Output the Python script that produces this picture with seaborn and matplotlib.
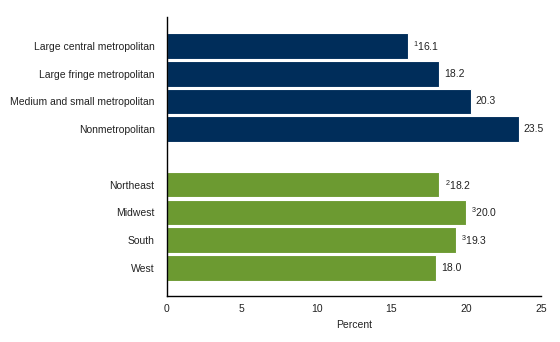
import matplotlib
matplotlib.use("Agg")
import matplotlib.pyplot as plt
import seaborn as sns
import pandas as pd
import numpy as np

categories = ["Large central metropolitan", "Large fringe metropolitan",
              "Medium and small metropolitan", "Nonmetropolitan",
              "Northeast", "Midwest", "South", "West"]
values = [16.1, 18.2, 20.3, 23.5, 18.2, 20.0, 19.3, 18.0]
groups = ["urban"] * 4 + ["region"] * 4
footnotes = ["1", "", "", "", "2", "3", "3", ""]
xticks = [0, 5, 10, 15, 20, 25]

sns.set_theme(style="white")
plt.rcParams["font.family"] = ["Liberation Sans", "DejaVu Sans"]
plt.rcParams["mathtext.fontset"] = "custom"
plt.rcParams["mathtext.rm"] = "Liberation Sans"
plt.rcParams["mathtext.it"] = "Liberation Sans"

FS = 7.5
blank = " "
order = categories[:4] + [blank] + categories[4:]
df = pd.DataFrame({"label": categories, "value": values, "group": groups})

fig = plt.figure(figsize=(5.6, 3.42), dpi=100)
ax = fig.add_axes([167/560, 46/342, (541-167)/560, (296-17)/342])

palette = {"urban": "#002D5A", "region": "#6C9A31"}
sns.barplot(data=df, y="label", x="value", hue="group", order=order,
            palette=palette, dodge=False, legend=False, width=0.92,
            edgecolor="white", linewidth=0.8, saturation=1, ax=ax)

pos = {c: i for i, c in enumerate(order)}
for c, v, f in zip(categories, values, footnotes):
    txt = (r"$^{%s}$" % f if f else "") + f"{v:.1f}"
    ax.text(v + 0.35, pos[c], txt, va="center", ha="left", fontsize=FS, color="#222222")

ax.set_xlim(0, 25)
ax.set_ylim(8 + 1.01, -1.045)
ax.set_xticks(xticks)
ax.set_xticklabels([str(t) for t in xticks], fontsize=FS, color="#222222")
ax.tick_params(axis="x", direction="in", length=5, width=1, color="black", pad=6)
ax.tick_params(axis="y", length=0, labelsize=FS, labelcolor="#222222", pad=9)
ax.set_ylabel("")
ax.set_xlabel("Percent", fontsize=FS, color="#222222", labelpad=4)
for s in ["top", "right"]:
    ax.spines[s].set_visible(False)
for s in ["left", "bottom"]:
    ax.spines[s].set_color("black")
    ax.spines[s].set_linewidth(1)

fig.savefig("out.png", dpi=100)
